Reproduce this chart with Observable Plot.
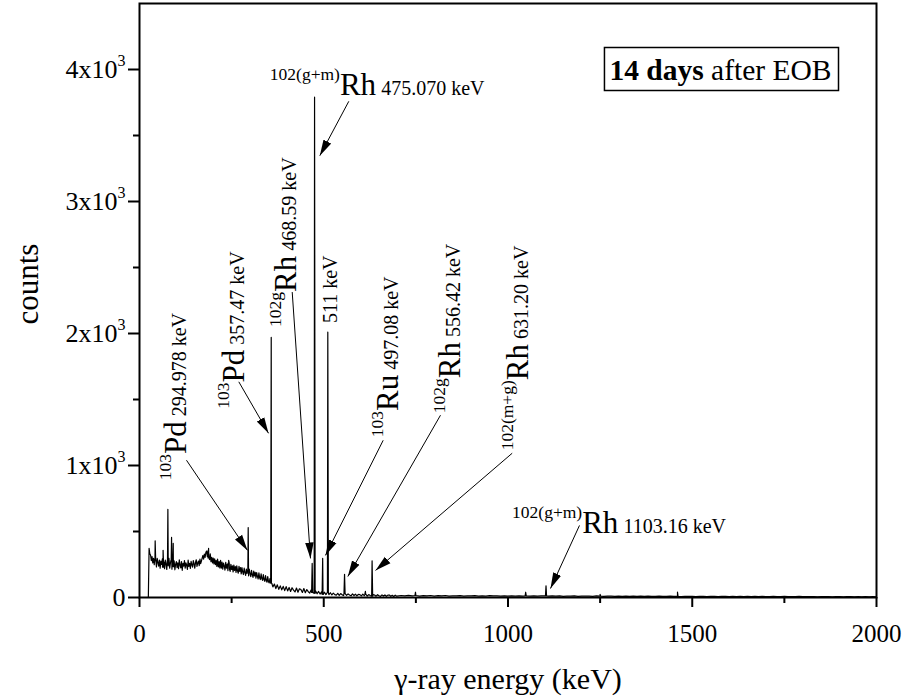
<!DOCTYPE html>
<html>
<head>
<meta charset="utf-8">
<script src="https://cdn.jsdelivr.net/npm/d3@7"></script>
<script src="https://cdn.jsdelivr.net/npm/@observablehq/plot@0.6"></script>
<style>
  body { margin: 0; background: #fff; }
  #chart svg { display: block; }
  #chart text { white-space: pre; }
</style>
</head>
<body>
<div id="chart"></div>
<script>
// Gamma-ray spectrum of the irradiated target, 14 days after end of bombardment.

// Continuum counts, sampled on three channel groupings (energy = start + i * step, keV)
const lowBand = {start: 24, step: 2};
const lowCounts = [
  0, 372, 330, 322, 280, 310, 262, 296, 248, 290,
  274, 232, 296, 266, 238, 284, 222, 276, 250, 292,
  230, 270, 218, 284, 252, 212, 280, 240, 296, 222,
  262, 284, 214, 258, 234, 278, 210, 250, 272, 226,
  262, 218, 286, 246, 224, 272, 206, 258, 238, 280,
  222, 262, 246, 212, 284, 236, 258, 220, 274, 248,
  230, 280, 254, 222, 266, 286, 236, 262, 276, 242,
  290, 256, 276, 298, 318, 290, 328, 304, 340, 352,
  312, 356, 300, 286, 330, 272, 304, 262, 298, 254,
  292, 248, 282, 236, 290, 232, 272, 224, 282, 222,
  268, 214, 260, 240, 208, 266, 222, 252, 204, 260,
  218, 198, 252, 212, 240, 194, 246, 206, 234, 190,
  240, 202, 184, 236, 198, 226, 178, 226, 194, 174,
  222, 190, 168, 216, 182, 208, 164, 214, 178, 158,
  206, 174, 152, 200, 164, 190, 146, 188, 160, 140,
  186, 150, 136, 180, 142, 130, 174, 136, 122, 166,
  130, 116, 158, 120, 110, 144
];

const midBand = {start: 358, step: 4};
const midCounts = [
  108, 80, 102, 68, 96, 62, 88, 58, 84, 52,
  82, 50, 76, 46, 74, 56, 42, 72, 40, 66,
  60, 38, 68, 36, 60, 44, 34, 58, 38, 32,
  50, 28, 46, 26, 42, 24, 40, 22, 38, 21,
  36, 19, 33, 22, 17, 32, 16, 30, 20, 15,
  30, 16, 27, 19, 13, 27, 15, 25, 13, 24,
  22, 12, 25, 14, 23, 11, 22, 15, 10, 22,
  19, 10, 21, 13, 9, 20, 11, 19, 9, 18,
  19, 9, 17, 8, 18, 10
];

const highBand = {start: 710, step: 10};
const highCounts = [
  15, 12, 16, 13, 15, 11, 14, 12, 15, 11,
  14, 12, 15, 11, 13, 12, 14, 10, 13, 12,
  14, 11, 13, 10, 14, 12, 13, 10, 12, 11,
  13, 10, 12, 11, 13, 10, 12, 11, 13, 12,
  11, 12, 10, 12, 9, 11, 10, 12, 9, 11,
  10, 11, 9, 12, 10, 9, 11, 10, 9, 11,
  9, 10, 8, 11, 9, 10, 8, 10, 9, 8,
  10, 8, 9, 10, 8, 9, 7, 9, 8, 9,
  7, 9, 8, 7, 9, 8, 7, 8, 9, 7,
  8, 7, 9, 7, 8, 6, 8, 7, 8, 6,
  7, 8, 6, 7, 8, 6, 7, 6, 8, 6,
  7, 6, 7, 5, 7, 6, 7, 5, 6, 7,
  5, 6, 7, 5, 6, 5, 7, 5, 6, 5
];

// Photopeak energies (keV) and counts at the peak channel
const peakEnergies = [42.5, 64, 77, 87, 91.5, 187.5, 242, 294.978, 357.47, 468.59,
  475.070, 497.08, 511, 556.42, 613, 631.20, 749, 1048, 1103.16, 1250, 1460];
const peakCounts = [430, 358, 667, 455, 410, 372, 282, 530, 1970, 258,
  3790, 296, 2010, 176, 46, 278, 40, 40, 88, 24, 40];
const peakHalfWidth = 1.5; // keV

// Peak identifications: label anchor and arrow (keV, counts)
const labelSup = ["103", "103", "102g", "102(g+m)", "", "103", "102g", "102(m+g)", "102(g+m)"];
const labelSym = ["Pd", "Pd", "Rh", "Rh", "", "Ru", "Rh", "Rh", "Rh"];
const labelEnergy = [" 294.978 keV", " 357.47 keV", " 468.59 keV", " 475.070 keV", "511 keV",
  " 497.08 keV", " 556.42 keV", " 631.20 keV", " 1103.16 keV"];
const labelVertical = [true, true, true, false, true, true, true, true, false];
const labelAt = [[125, 888], [283, 1430], [426, 2050], [353.6, 3809], [534.6, 2079],
  [702.8, 1214], [871, 1396], [1054, 1115], [1011, 486]];
const arrowFrom = [[127.5, 1040], [269.5, 1634], [414.4, 2314], [568, 3759], null,
  [661.3, 1191], [816.8, 1381], [1011.4, 1093], [1194, 546]];
const arrowTo = [[293.1, 357], [350.1, 1244], [464, 296], [489.3, 3347], null,
  [504.7, 319], [565.3, 159], [640.4, 205], [1115.3, 68]];

const xMajor = [0, 500, 1000, 1500, 2000];
const xMinor = [250, 750, 1250, 1750];
const yMajor = [0, 1000, 2000, 3000, 4000];
const yMinor = [500, 1500, 2500, 3500];

// Assemble the spectrum polyline
const background = [];
for (const [band, counts] of [[lowBand, lowCounts], [midBand, midCounts], [highBand, highCounts]]) {
  counts.forEach((c, i) => background.push({energy: band.start + i * band.step, counts: c}));
}
function nearestBackground(e) {
  let best = background[0];
  for (const p of background) if (Math.abs(p.energy - e) < Math.abs(best.energy - e)) best = p;
  return best.counts;
}
const spectrum = background.slice();
peakEnergies.forEach((e, i) => {
  const foot = nearestBackground(e);
  spectrum.push({energy: e - peakHalfWidth, counts: foot});
  spectrum.push({energy: e, counts: peakCounts[i]});
  spectrum.push({energy: e + peakHalfWidth, counts: foot});
});
spectrum.sort((a, b) => a.energy - b.energy);

const labels = labelSym.map((s, i) => ({
  text: [labelSup[i], s, labelEnergy[i]].join("|"),
  x: labelAt[i][0], y: labelAt[i][1],
  rotate: labelVertical[i] ? -90 : 0
}));
const arrows = arrowFrom.map((f, i) => f && ({x1: f[0], y1: f[1], x2: arrowTo[i][0], y2: arrowTo[i][1]}))
  .filter(Boolean);

// Solid triangular arrowhead
function filledArrow(color) {
  const m = d3.create("svg:marker")
    .attr("viewBox", "0 -5 16 10")
    .attr("markerWidth", 16)
    .attr("markerHeight", 10)
    .attr("markerUnits", "userSpaceOnUse")
    .attr("refX", 16)
    .attr("refY", 0)
    .attr("orient", "auto");
  m.append("path").attr("d", "M0,-4.3L16,0L0,4.3Z").attr("fill", color).attr("stroke", "none");
  return m.node();
}

const chart = Plot.plot({
  width: 904,
  height: 698,
  marginLeft: 139,
  marginRight: 28,
  marginTop: 3,
  marginBottom: 101,
  style: {fontFamily: "'Liberation Serif', 'Times New Roman', serif", background: "white", color: "black"},
  x: {domain: [0, 2000]},
  y: {domain: [0, 4500]},
  marks: [
    Plot.line(spectrum, {x: "energy", y: "counts", stroke: "black", strokeWidth: 1.2}),
    Plot.link(arrows, {x1: "x1", y1: "y1", x2: "x2", y2: "y2", stroke: "black", strokeWidth: 1, markerEnd: filledArrow}),
    Plot.text(labels, {x: "x", y: "y", text: "text", rotate: "rotate", textAnchor: "start",
      lineAnchor: "bottom", fontSize: 20, fill: "black"}),
    Plot.axisX({ticks: xMajor, tickSize: 10, tickPadding: 17, strokeWidth: 2, fontSize: 25,
      tickFormat: d => String(d), label: null}),
    Plot.axisX({ticks: xMinor, tickSize: 6, strokeWidth: 2, tickFormat: () => "", label: null}),
    Plot.axisY({ticks: yMajor, tickSize: 11, strokeWidth: 2, tickFormat: () => "", label: null}),
    Plot.axisY({ticks: yMinor, tickSize: 6, strokeWidth: 2, tickFormat: () => "", label: null}),
    Plot.text(yMajor, {y: d => d, text: d => d === 0 ? "0" : `${d / 1000}x10^3`, frameAnchor: "left",
      dx: -14, textAnchor: "end", fontSize: 26, fill: "black"}),
    Plot.text(["counts"], {frameAnchor: "left", dx: -111, dy: 24, rotate: -90, fontSize: 31, fill: "black"}),
    Plot.text(["γ-ray energy (keV)"], {frameAnchor: "bottom", dy: 91, lineAnchor: "bottom", fontSize: 30, fill: "black"}),
    Plot.text(["14 days~ after EOB"], {frameAnchor: "top-right", dx: -45, dy: 76, lineAnchor: "bottom",
      textAnchor: "end", fontSize: 29.5, fill: "black"}),
    Plot.frame({stroke: "black", strokeWidth: 2})
  ]
});

document.getElementById("chart").appendChild(chart);

// Mixed-size text runs: "|" separates isotope parts, "^" a power of ten, "~" the bold lead of the note
let noteNode = null;
d3.select(chart).selectAll("text").each(function () {
  const s = this.textContent;
  const t = d3.select(this);
  if (s.includes("|")) {
    const [sup, sym, energy] = s.split("|");
    this.textContent = "";
    if (sup) t.append("tspan").attr("font-size", 17.5).attr("dy", -15).text(sup);
    if (sym) t.append("tspan").attr("font-size", 31).attr("dy", sup ? 15 : 0).text(sym);
    t.append("tspan").attr("font-size", 20).text(energy);
  } else if (s.includes("^")) {
    const [base, sup] = s.split("^");
    this.textContent = "";
    t.append("tspan").text(base);
    t.append("tspan").attr("font-size", 16).attr("dy", -12).text(sup);
  } else if (s.includes("~")) {
    const [bold, rest] = s.split("~");
    this.textContent = "";
    t.append("tspan").attr("font-weight", "bold").text(bold);
    t.append("tspan").text(rest);
    noteNode = this;
  }
});

// Box around the note
if (noteNode) {
  const nb = noteNode.getBoundingClientRect();
  const sb = chart.getBoundingClientRect();
  d3.select(chart).append("rect")
    .attr("x", nb.left - sb.left - 5)
    .attr("y", nb.top - sb.top - 6)
    .attr("width", nb.width + 12)
    .attr("height", nb.height + 11)
    .attr("fill", "none")
    .attr("stroke", "black")
    .attr("stroke-width", 1.5);
}
</script>
</body>
</html>
